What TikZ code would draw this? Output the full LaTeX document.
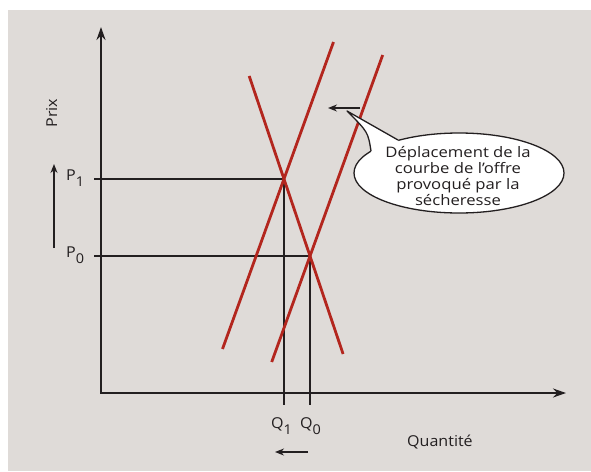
\documentclass[tikz,border=0pt]{standalone}
\usepackage{fontspec}
\setmainfont{Open Sans}[FakeStretch=1.07]
\newfontfamily\bubblefont{Open Sans}[FakeStretch=1.15]
\usetikzlibrary{arrows.meta,shapes.geometric,calc}
\definecolor{bg}{HTML}{DFDBD8}
\definecolor{curve}{HTML}{B3261E}
\definecolor{ink}{HTML}{231F20}
\newcommand{\lsub}[1]{\raisebox{-6pt}{\fontsize{13.5}{13.5}\selectfont #1}}
\begin{document}
\begin{tikzpicture}[x=1pt,y=-1pt,
  axis/.style={ink,line width=2.4pt},
  guide/.style={ink,line width=2pt},
  curveline/.style={curve,line width=2.8pt},
  thinarrow/.style={ink,line width=1.4pt,-{Stealth[length=9pt,width=7pt]}},
  lbl/.style={font=\fontsize{15}{15}\selectfont,text=ink,inner sep=0pt},
  bubbletxt/.style={font=\bubblefont\fontsize{14.5}{16}\selectfont,text=ink,align=center,inner sep=0pt}]
\useasboundingbox (0,0) rectangle (591,471);
\fill[white] (0,0) rectangle (591,471);
\fill[bg] (8,10) rectangle (591,471);
% axes
\coordinate (ytop) at (101,27);
\coordinate (O) at (101,393);
\coordinate (xend) at (566,393);
\draw[axis,{Stealth[length=13pt,width=9pt]}-{Stealth[length=13pt,width=9pt]}] (ytop) -- (O) -- (xend);
% curves
\coordinate (D1) at (249.2,76);  \coordinate (D2) at (343.1,354);
\coordinate (S1a) at (222.5,349); \coordinate (S1b) at (333.5,42);
\coordinate (S0a) at (271.7,362); \coordinate (S0b) at (382.7,55);
\coordinate (E1) at (intersection of D1--D2 and S1a--S1b);
\coordinate (E0) at (intersection of D1--D2 and S0a--S0b);
\coordinate (G1) at (284,179);
\coordinate (G0) at (310,256);
\coordinate (Pt) at (94,0);
\coordinate (Qb) at (0,405);
% guides
\draw[guide] (G1 -| Pt) -- (G1) -- (G1 |- Qb);
\draw[guide] (G0 -| Pt) -- (G0) -- (G0 |- Qb);
\draw[curveline] (D1) -- (D2);
\draw[curveline] (S1a) -- (S1b);
\draw[curveline] (S0a) -- (S0b);
% labels
\node[lbl,anchor=base west] (p1) at (66,180) {P\lsub{1}};
\node[lbl,anchor=base west] (p0) at (66,257) {P\lsub{0}};
\node[lbl,anchor=base west] (q1) at (271,428) {Q\lsub{1}};
\node[lbl,anchor=base west] (q0) at (300,428) {Q\lsub{0}};
\node[lbl,anchor=base west] (qty) at (407,446) {Quantité};
\node[lbl,rotate=90] (prix) at (51.5,113) {Prix};
% small arrows
\coordinate (pa) at (54,248); \coordinate (pb) at (54,164);
\draw[thinarrow] (pa) -- (pb);
\coordinate (qa) at (308,452); \coordinate (qb) at (275,452);
\draw[thinarrow] (qa) -- (qb);
\coordinate (sa) at (360,108); \coordinate (sb) at (328,108);
\draw[thinarrow] (sa) -- (sb);
% bubble
\node[ellipse,draw=ink,fill=white,line width=1.3pt,minimum width=210pt,minimum height=80pt,inner sep=0pt] (bubble) at (459,173) {};
\coordinate (tA) at (371,151);
\coordinate (tip) at (347,111);
\coordinate (tB) at (398,140);
\fill[white] (tA) .. controls (368,132) .. (tip) -- (tB) -- (401,151) -- (376,159) -- cycle;
\draw[ink,line width=1.3pt,line join=round] (tA) .. controls (368,132) .. (tip) -- (tB);
\node[bubbletxt] (btxt) at (458,176) {Déplacement de la\\courbe de l’offre\\provoqué par la\\sécheresse};
\end{tikzpicture}
\end{document}
